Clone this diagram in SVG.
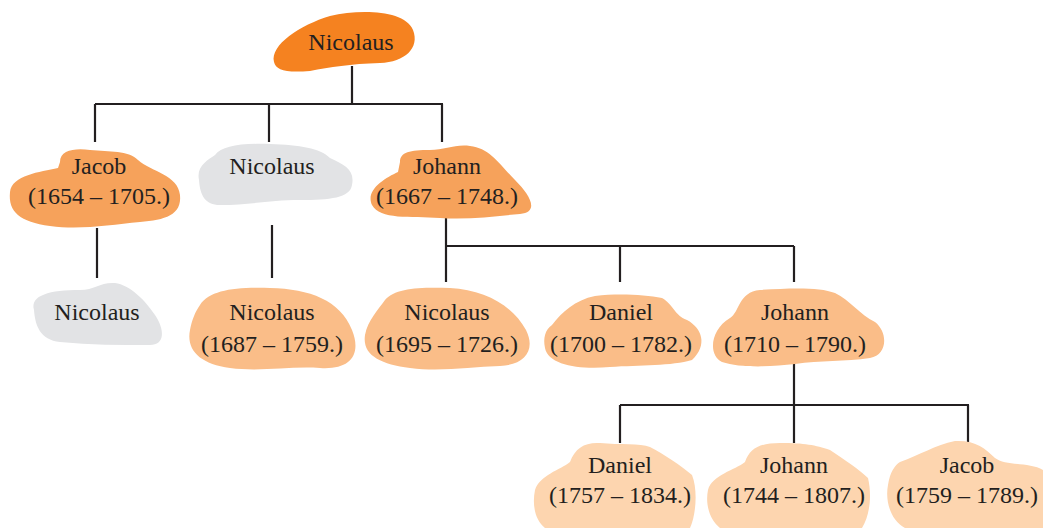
<svg xmlns="http://www.w3.org/2000/svg" width="1043" height="528" viewBox="0 0 1043 528">
<style>
text{font-family:"Liberation Serif","Times New Roman",serif;font-size:24px;fill:#231F20;text-anchor:middle}
.c{fill:none;stroke:#231F20;stroke-width:2.2}
.l0{fill:#F58220}
.l1{fill:#F6A25B}
.l2{fill:#FABD88}
.l3{fill:#FDD5AF}
.g{fill:#E2E3E5}
</style>
<rect width="1043" height="528" fill="#FFFFFF"/>
<g id="connectors">
<path class="c" d="M352,66V104M95,104H443M95,104V142M269,104V142M442,104V142"/>
<path class="c" d="M97,228V278M272,225V278"/>
<path class="c" d="M446,216V246M446,246H794M446,246V282M620,246V282M794,246V282"/>
<path class="c" d="M794,361V405M620,405H969M620,405V443M794,405V443M968,405V443"/>
</g>
<g id="n0"><path class="l0" d="M274,62 C270,45 300,25 330,16 C360,9 405,10 413,30 C420,48 405,62 380,63 C350,64 330,67 310,71 C285,73 276,70 274,62 Z"/><text x="351" y="50">Nicolaus</text></g>
<g id="n1"><path class="l1" d="M60,162 C60,150 75,148 90,150 C110,152 128,150 138,160 C152,172 178,175 180,195 C182,215 165,220 140,222 C110,225 80,230 50,226 C20,222 8,212 10,192 C12,175 40,172 58,168 Z"/><text x="99" y="174">Jacob</text><text x="99" y="204">(1654 – 1705.)</text></g>
<g id="n2"><path class="g" d="M199,180 C196,166 208,160 215,155 C222,146 240,143 270,144 C300,145 320,148 330,158 C345,165 355,170 352,185 C350,198 330,200 300,200 C270,200 250,205 220,205 C205,205 200,195 199,180 Z"/><text x="272" y="174">Nicolaus</text></g>
<g id="n3"><path class="l1" d="M400,162 C400,152 410,150 430,150 C445,150 455,144 470,146 C490,148 500,165 515,180 C530,195 540,212 520,214 C495,216 470,220 440,218 C410,216 380,220 372,205 C365,190 385,178 398,172 Z"/><text x="447" y="174">Johann</text><text x="447" y="204">(1667 – 1748.)</text></g>
<g id="n4"><path class="g" d="M34,310 C30,295 50,290 80,290 C95,290 100,282 115,283 C130,285 145,300 155,315 C165,330 165,345 150,345 C120,345 90,345 60,342 C40,340 35,325 34,310 Z"/><text x="97" y="320">Nicolaus</text></g>
<g id="n5"><path class="l2" d="M200,305 C210,290 235,287 270,288 C310,289 340,300 352,330 C362,355 350,370 320,368 C290,366 260,372 230,368 C200,364 186,350 190,330 C192,320 195,312 200,305 Z"/><text x="272" y="320">Nicolaus</text><text x="272" y="352">(1687 – 1759.)</text></g>
<g id="n6"><path class="l2" d="M385,300 C395,288 420,287 450,288 C485,290 512,305 526,330 C536,350 525,365 500,366 C470,367 440,372 410,368 C380,364 362,355 365,335 C368,320 378,310 385,300 Z"/><text x="447" y="320">Nicolaus</text><text x="447" y="352">(1695 – 1726.)</text></g>
<g id="n7"><path class="l2" d="M552,325 C562,312 575,300 595,296 C620,293 645,295 662,298 C674,305 674,315 687,320 C702,328 708,345 692,360 C672,366 640,365 610,367 C580,370 548,365 545,348 C543,338 545,330 552,325 Z"/><text x="621" y="320">Daniel</text><text x="621" y="352">(1700 – 1782.)</text></g>
<g id="n8"><path class="l2" d="M730,318 C740,312 738,292 760,290 C790,288 820,287 835,293 C850,300 860,315 875,322 C888,332 888,355 870,358 C845,362 820,360 795,364 C770,367 740,368 722,362 C708,355 710,330 730,318 Z"/><text x="795" y="320">Johann</text><text x="795" y="352">(1710 – 1790.)</text></g>
<g id="n9"><path class="l3" d="M570,462 C575,448 585,442 600,443 C620,445 640,443 650,447 C665,455 680,465 692,475 C698,490 696,515 690,528 L545,528 C535,520 532,505 535,490 C540,475 560,470 570,462 Z"/><text x="620" y="473">Daniel</text><text x="620" y="503">(1757 – 1834.)</text></g>
<g id="n10"><path class="l3" d="M745,462 C750,448 760,443 780,443 C805,443 815,445 830,450 C845,460 860,470 868,478 C872,495 870,515 862,528 L720,528 C710,520 705,505 708,490 C712,475 735,470 745,462 Z"/><text x="794" y="473">Johann</text><text x="794" y="503">(1744 – 1807.)</text></g>
<g id="n11"><path class="l3" d="M900,462 C920,455 935,445 955,441 C975,440 985,448 995,458 C1005,466 1030,462 1043,470 L1043,528 L905,528 C890,520 885,500 888,485 C890,472 895,465 900,462 Z"/><text x="967" y="473">Jacob</text><text x="967" y="503">(1759 – 1789.)</text></g>
</svg>
